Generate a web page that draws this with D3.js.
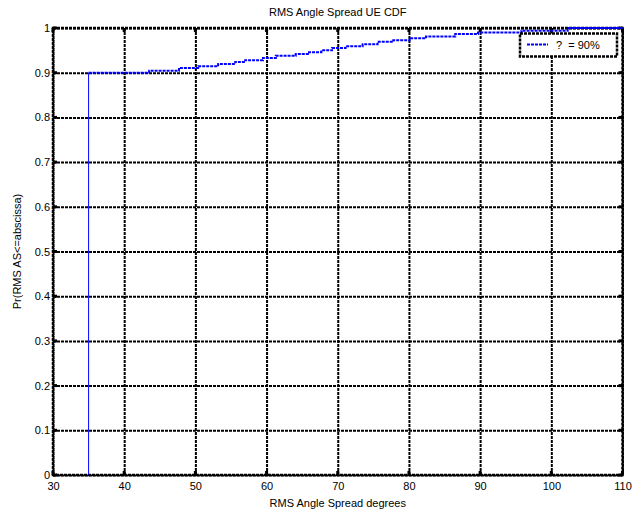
<!DOCTYPE html>
<html>
<head>
<meta charset="utf-8">
<script src="https://d3js.org/d3.v7.min.js"></script>
<style>
	body { margin: 0; background: #fff; }
	svg { font-family: Arial, "Liberation Sans", sans-serif; }
	.tick text { font-size: 11px; fill: #000; }
	.domain { display: none; }
</style>
</head>
<body>
<svg id="svg-cdf"></svg>
<script>
// CDF of RMS angle spread (step points)
const stepX = [35, 43.5, 47.7, 50.4, 53.2, 55.6, 57, 59.5, 61.3, 64.1, 65.8, 67.7, 69.2, 71.1, 73.5, 75.6, 77.8, 80.1, 82.4, 86.5, 89.7, 95.8, 102.3];
const stepY = [0.900, 0.9045, 0.9105, 0.9143, 0.9195, 0.924, 0.928, 0.933, 0.938, 0.942, 0.946, 0.950, 0.955, 0.959, 0.9635, 0.969, 0.9725, 0.977, 0.981, 0.9866, 0.990, 0.994, 1.0];
const xTicks = [30, 40, 50, 60, 70, 80, 90, 100, 110];
const yTicks = [0, 0.1, 0.2, 0.3, 0.4, 0.5, 0.6, 0.7, 0.8, 0.9, 1];
const yTickLabels = ["0", "0.1", "0.2", "0.3", "0.4", "0.5", "0.6", "0.7", "0.8", "0.9", "1"];
const legendLabel = "?  = 90%";

const WIDTH = 642, HEIGHT = 513;
const MARGIN = {top: 28, right: 19.5, bottom: 38, left: 53};
const CHART_WIDTH = WIDTH - MARGIN.left - MARGIN.right;
const CHART_HEIGHT = HEIGHT - MARGIN.top - MARGIN.bottom;
const DASH = "3,1";

const svg = d3.select("#svg-cdf").attr("width", WIDTH).attr("height", HEIGHT);

const xScale = d3.scaleLinear().domain([30, 110]).range([0, CHART_WIDTH]);
const yScale = d3.scaleLinear().domain([0, 1]).range([CHART_HEIGHT, 0]);

const chart = svg.append("g").attr("transform", `translate(${MARGIN.left}, ${MARGIN.top})`);

// Grid + tick labels
chart.append("g")
	.attr("transform", `translate(0, ${CHART_HEIGHT})`)
	.call(d3.axisBottom(xScale).tickValues(xTicks).tickSize(-CHART_HEIGHT).tickPadding(6).tickFormat(d3.format("d")))
	.call(g => g.selectAll(".tick line").attr("stroke", "#000").attr("stroke-width", 2).attr("stroke-dasharray", DASH))
	.call(g => g.selectAll(".tick text").attr("dy", "0.85em"));

chart.append("g")
	.call(d3.axisLeft(yScale).tickValues(yTicks).tickSize(-CHART_WIDTH).tickPadding(3).tickFormat((d, i) => yTickLabels[i]))
	.call(g => g.selectAll(".tick line").attr("stroke", "#000").attr("stroke-width", 2).attr("stroke-dasharray", DASH));

// Small inward tick marks on all four sides
const tickLen = 4;
chart.append("g").selectAll("line")
	.data(xTicks.flatMap(v => [[v, 0], [v, CHART_HEIGHT]]))
	.join("line")
	.attr("x1", d => xScale(d[0])).attr("x2", d => xScale(d[0]))
	.attr("y1", d => d[1]).attr("y2", d => d[1] === 0 ? tickLen : CHART_HEIGHT - tickLen)
	.attr("stroke", "#000").attr("stroke-width", 3);
chart.append("g").selectAll("line")
	.data(yTicks.flatMap(v => [[v, 0], [v, CHART_WIDTH]]))
	.join("line")
	.attr("y1", d => yScale(d[0])).attr("y2", d => yScale(d[0]))
	.attr("x1", d => d[1]).attr("x2", d => d[1] === 0 ? tickLen : CHART_WIDTH - tickLen)
	.attr("stroke", "#000").attr("stroke-width", 3);

// Axes box
chart.append("rect")
	.attr("width", CHART_WIDTH).attr("height", CHART_HEIGHT)
	.attr("fill", "none").attr("stroke", "#000").attr("stroke-width", 2.5).attr("stroke-dasharray", DASH);

// CDF stairs: the long rise at the first step is drawn thin, as in the picture
chart.append("line")
	.attr("x1", xScale(stepX[0])).attr("x2", xScale(stepX[0]))
	.attr("y1", yScale(0)).attr("y2", yScale(stepY[0]))
	.attr("stroke", "#0000ff").attr("stroke-width", 1);

const pts = [[stepX[0], stepY[0]]];
stepX.slice(1).forEach((x, i) => {
	pts.push([x, stepY[i]]);
	pts.push([x, stepY[i + 1]]);
});
pts.push([110, stepY[stepY.length - 1]]);

chart.append("path")
	.datum(pts)
	.attr("fill", "none")
	.attr("stroke", "#0000ff")
	.attr("stroke-width", 2)
	.attr("stroke-dasharray", DASH)
	.attr("d", d3.line().x(d => xScale(d[0])).y(d => yScale(d[1])));

// Legend
const legend = chart.append("g").attr("transform", `translate(${520 - MARGIN.left}, ${33.5 - MARGIN.top})`);
legend.append("rect")
	.attr("width", 97).attr("height", 23)
	.attr("fill", "#fff").attr("stroke", "#000").attr("stroke-width", 2.5).attr("stroke-dasharray", DASH);
legend.append("line")
	.attr("x1", 7).attr("x2", 28).attr("y1", 11).attr("y2", 11)
	.attr("stroke", "#0000ff").attr("stroke-width", 2).attr("stroke-dasharray", DASH);
legend.append("text")
	.attr("x", 36).attr("y", 15.5)
	.attr("font-size", 11).attr("xml:space", "preserve")
	.style("white-space", "pre")
	.text(legendLabel);

// Title and axis labels
svg.append("text")
	.attr("x", MARGIN.left + CHART_WIDTH / 2).attr("y", 16)
	.attr("text-anchor", "middle").attr("font-size", 11)
	.text("RMS Angle Spread UE CDF");

svg.append("text")
	.attr("x", MARGIN.left + CHART_WIDTH / 2).attr("y", 507)
	.attr("text-anchor", "middle").attr("font-size", 11)
	.text("RMS Angle Spread degrees");

svg.append("text")
	.attr("transform", `translate(21, ${MARGIN.top + CHART_HEIGHT / 2}) rotate(-90)`)
	.attr("text-anchor", "middle").attr("font-size", 11)
	.text("Pr(RMS AS<=abscissa)");
</script>
</body>
</html>
